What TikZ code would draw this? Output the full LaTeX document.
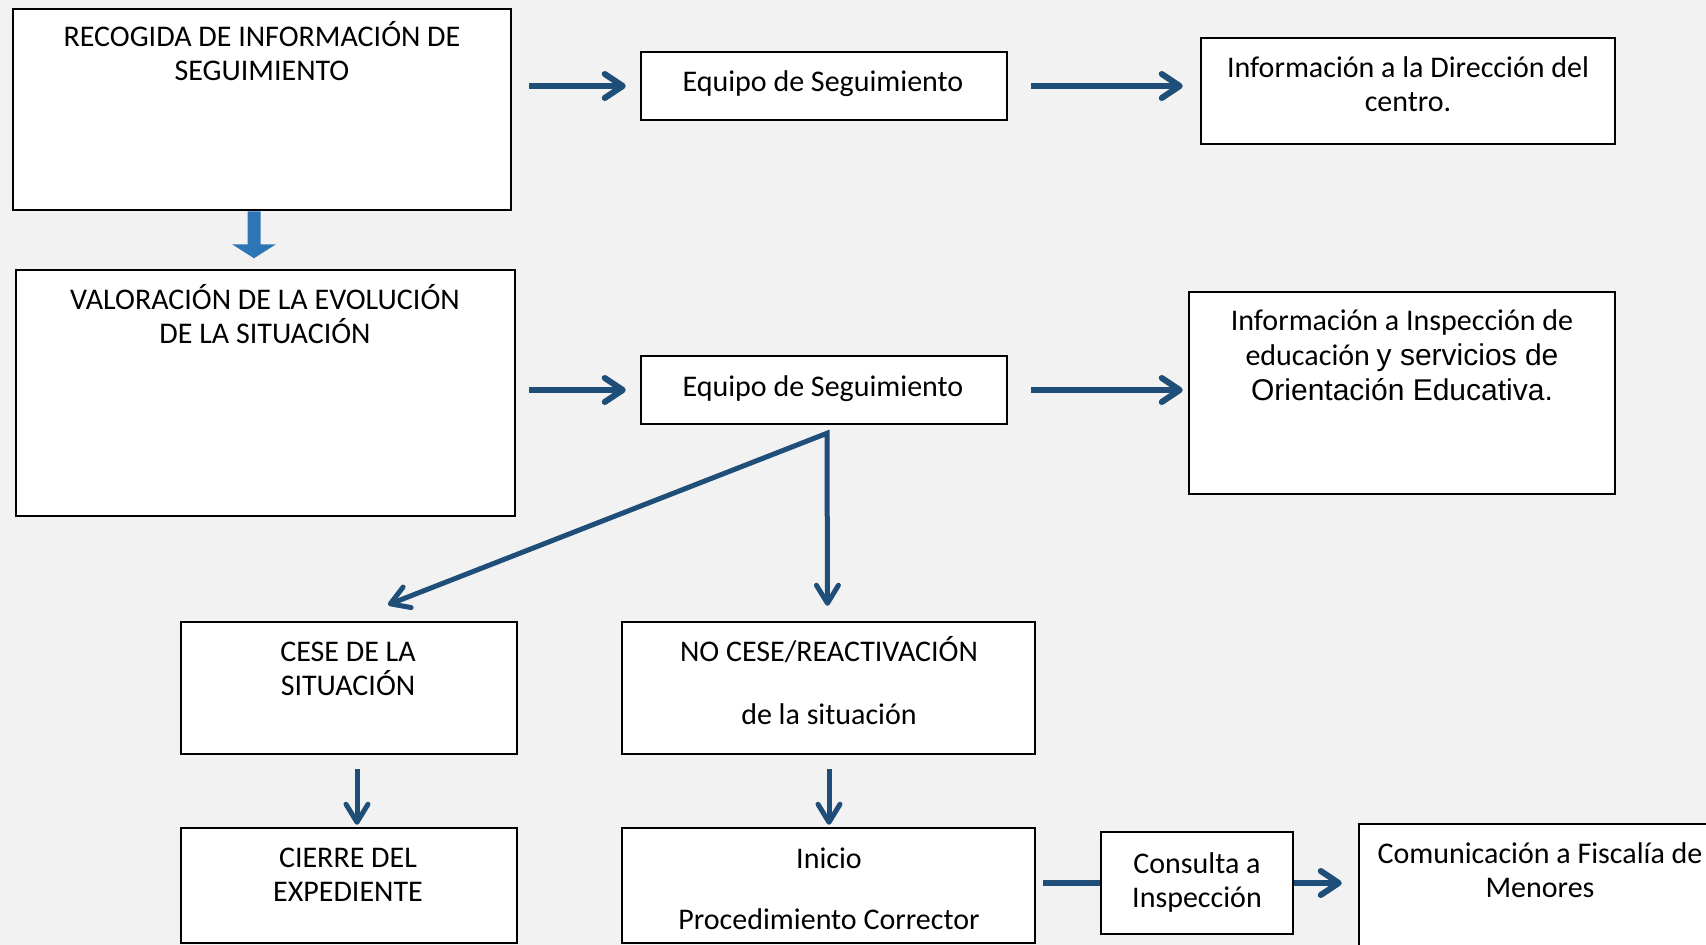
\documentclass[tikz,border=0pt]{standalone}
\usepackage{fontspec}
\setmainfont{Carlito}
\newfontfamily\arialf{Liberation Sans}
\usetikzlibrary{arrows.meta,calc}
\definecolor{bgc}{HTML}{F2F2F2}
\definecolor{arrc}{HTML}{1F4E79}
\definecolor{blockc}{HTML}{2E75B6}
\tikzset{
  box/.style={draw=black,fill=white,line width=2.5pt,inner sep=0pt,rectangle},
  txt/.style={anchor=base,align=center,inner sep=0pt,font=\fontsize{30}{34}\selectfont},
  harr/.style={draw=arrc,line width=6pt,-{Straight Barb[length=18pt,width=24pt,round]}},
  varr/.style={draw=arrc,line width=5pt,-{Straight Barb[length=18pt,width=22pt,round]}},
  hline/.style={draw=arrc,line width=6pt},
}
\begin{document}
\begin{tikzpicture}[x=1pt,y=-1pt]
\clip (0,0) rectangle (1706,945);
\fill[bgc] (0,0) rectangle (1706,945);
% boxes
\node[box,minimum width=498pt,minimum height=201pt] (b1) at (262,109.5) {};
\node[box,minimum width=499pt,minimum height=246pt] (b2) at (265.5,393) {};
\node[box,minimum width=366pt,minimum height=68pt] (eq1) at (824,86) {};
\node[box,minimum width=366pt,minimum height=68pt] (eq2) at (824,390) {};
\node[box,minimum width=414pt,minimum height=106pt] (dir) at (1408,91) {};
\node[box,minimum width=426pt,minimum height=202pt] (insp) at (1402,393) {};
\node[box,minimum width=336pt,minimum height=132pt] (cese) at (349,688) {};
\node[box,minimum width=413pt,minimum height=132pt] (nocese) at (828.5,688) {};
\node[box,minimum width=336pt,minimum height=115pt] (cierre) at (349,885.5) {};
\node[box,minimum width=413pt,minimum height=115pt] (inicio) at (828.5,885.5) {};
\node[box,minimum width=192pt,minimum height=102pt] (consulta) at (1197,883) {};
\node[box,minimum width=362pt,minimum height=146pt] (com) at (1540,897) {};
% texts (anchored at the baseline of their last line)
\node[txt] (t1) at (262,80) {RECOGIDA DE INFORMACIÓN DE\\SEGUIMIENTO};
\node[txt] (t2) at (265,343) {VALORACIÓN DE LA EVOLUCIÓN\\DE LA SITUACIÓN};
\node[txt] (teq1) at (823,91) {Equipo de Seguimiento};
\node[txt] (teq2) at (823,396) {Equipo de Seguimiento};
\node[txt] (tdir) at (1408,111) {Información a la Dirección del\\centro.};
\node[txt,font=\fontsize{30}{35}\selectfont] (tinsp) at (1402,400) {Información a Inspección de\\educación {\arialf y servicios de}\\{\arialf Orientación Educativa.}};
\node[txt] (tcese) at (348,695) {CESE DE LA\\SITUACIÓN};
\node[txt] (tnocese) at (829,724) {NO CESE/REACTIVACIÓN\\[29pt]de la situación};
\node[txt] (tcierre) at (348,901) {CIERRE DEL\\EXPEDIENTE};
\node[txt] (tinicio) at (829,929) {Inicio\\[27pt]Procedimiento Corrector};
\node[txt] (tcons) at (1197,907) {Consulta a\\Inspección};
\node[txt] (tcom) at (1540,897) {Comunicación a Fiscalía de\\Menores};
% block arrow
\fill[blockc] ($(b1.south)+(-14.5,0)$) -- ++(13,0) -- ++(0,33) -- ++(15.5,0) -- ++(-22,14) -- ++(-22,-14) -- ++(15.5,0) -- cycle;
% connectors
\draw[harr,shorten <=17pt,shorten >=14pt] (b1.east |- eq1.west) -- (eq1.west);
\draw[harr,shorten <=23pt,shorten >=17pt] (eq1.east) -- (eq1.east -| dir.west);
\draw[harr,shorten <=13pt,shorten >=14pt] (b2.east |- eq2.west) -- (eq2.west);
\draw[harr,shorten <=23pt,shorten >=5pt] (eq2.east) -- (eq2.east -| insp.west);
\draw[draw=arrc,line width=5pt,{Straight Barb[length=18pt,width=22pt,round]}-{Straight Barb[length=18pt,width=22pt,round]}]
  ($(cese.north)+(39,-16)$) -- ($(eq2.south)+(3,8)$) -- ($(nocese.north)+(-1,-15)$);
\draw[varr] ($(cese.south)+(8,14)$) -- ($(cierre.north)+(8,-2)$);
\draw[varr] ($(nocese.south)+(0.5,14)$) -- ($(inicio.north)+(0.5,-2)$);
\draw[hline,shorten <=7pt] (inicio.east |- consulta.west) -- (consulta.west);
\draw[harr,shorten >=16pt] (consulta.east) -- (consulta.east -| com.west);
\end{tikzpicture}
\end{document}
